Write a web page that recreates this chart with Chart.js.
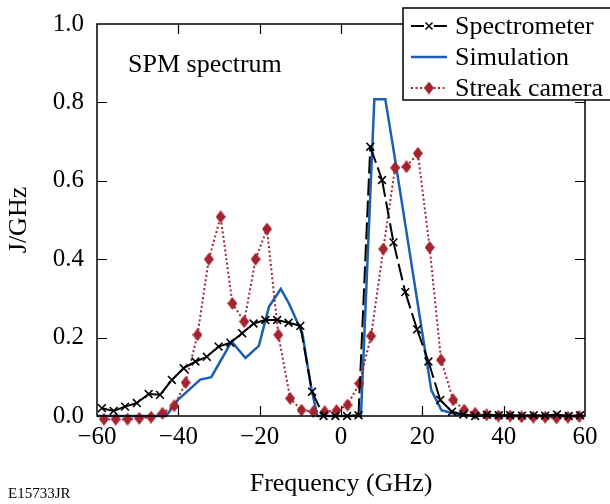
<!DOCTYPE html>
<html>
<head>
<meta charset="utf-8">
<script src="https://cdn.jsdelivr.net/npm/chart.js@4/dist/chart.umd.min.js"></script>
<style>
  html, body { margin: 0; padding: 0; background: #fff; }
  #c { display: block; }
</style>
</head>
<body>
<canvas id="c" width="610" height="504"></canvas>
<script>
// ---- Data ----
const specX = [-58.8, -55.9, -53.1, -50.2, -47.3, -44.5, -41.6, -38.7, -35.8, -33.0, -30.1, -27.2, -24.3, -21.5, -18.6, -15.7, -12.9, -10.0, -7.1, -4.3, -1.4, 1.5, 4.3, 7.2, 10.1, 12.9, 15.8, 18.7, 21.5, 24.4, 27.3, 30.1, 33.0, 35.9, 38.8, 41.6, 44.5, 47.4, 50.2, 53.1, 56.0, 58.8];
const specY = [0.020, 0.013, 0.024, 0.033, 0.056, 0.054, 0.092, 0.122, 0.139, 0.151, 0.177, 0.187, 0.211, 0.236, 0.245, 0.245, 0.238, 0.230, 0.062, 0.000, 0.000, 0.000, 0.002, 0.687, 0.602, 0.443, 0.316, 0.221, 0.139, 0.041, 0.011, 0.004, 0.000, 0.003, 0.002, 0.002, 0.001, 0.002, 0.001, 0.004, 0.000, 0.002];

const simX = [-60, -43.0, -40.1, -34.6, -31.9, -26.9, -23.5, -20.2, -17.7, -14.8, -12.8, -9.5, -7.4, -5.8, 4.9, 8.2, 10.9, 13.2, 22.2, 24.7, 28.8, 35, 60];
const simY = [0.000, 0.000, 0.041, 0.093, 0.099, 0.190, 0.148, 0.179, 0.279, 0.324, 0.287, 0.211, 0.075, 0.000, 0.000, 0.808, 0.808, 0.661, 0.066, 0.015, 0.003, 0.000, 0.000];

const streakX = [-58.3, -55.4, -52.5, -49.6, -46.7, -43.9, -41.0, -38.2, -35.3, -32.5, -29.6, -26.7, -23.8, -21.0, -18.2, -15.4, -12.5, -9.7, -6.8, -4.0, -1.1, 1.6, 4.5, 7.4, 10.4, 13.3, 16.1, 18.9, 21.8, 24.6, 27.6, 30.3, 33.0, 35.8, 38.7, 41.6, 44.4, 47.3, 50.2, 53.0, 55.8, 58.6];
const streakY = [-0.008, -0.008, -0.008, -0.006, -0.003, 0.007, 0.026, 0.085, 0.207, 0.400, 0.508, 0.287, 0.241, 0.400, 0.477, 0.207, 0.045, 0.015, 0.011, 0.011, 0.014, 0.028, 0.083, 0.204, 0.426, 0.633, 0.636, 0.670, 0.430, 0.143, 0.041, 0.015, 0.007, 0.003, 0.000, 0.000, -0.002, -0.003, -0.003, -0.005, -0.003, -0.001];

const seriesNames = ['Spectrometer', 'Simulation', 'Streak camera'];
const xTickValues = [-60, -40, -20, 0, 20, 40, 60];
const yTickValues = [0, 0.2, 0.4, 0.6, 0.8, 1.0];
const xTitle = 'Frequency (GHz)';
const yTitle = 'J/GHz';
const panelLabel = 'SPM spectrum';
const figureId = 'E15733JR';

// ---- Styles ----
const BLUE = '#1a5fb0';
const RED = '#a3232f';
const SERIF = '"Liberation Serif", "DejaVu Serif", serif';

function zip(xs, ys) { return xs.map((x, i) => ({ x: x, y: ys[i] })); }

// diamond marker
const diamond = document.createElement('canvas');
diamond.width = 10; diamond.height = 13;
(function () {
  const g = diamond.getContext('2d');
  g.fillStyle = RED;
  g.beginPath();
  g.moveTo(5, 0); g.lineTo(10, 6.5); g.lineTo(5, 13); g.lineTo(0, 6.5);
  g.closePath(); g.fill();
})();

const framePlugin = {
  id: 'frame',
  afterDatasetsDraw(chart) {
    const { ctx, chartArea: a, scales } = chart;
    ctx.save();
    ctx.strokeStyle = '#000';
    ctx.lineWidth = 1.5;
    ctx.strokeRect(a.left, a.top, a.right - a.left, a.bottom - a.top);
    ctx.lineWidth = 1.2;
    const tl = 10;
    ctx.beginPath();
    xTickValues.forEach(v => {
      if (v === xTickValues[0] || v === xTickValues[xTickValues.length - 1]) return;
      const px = Math.round(scales.x.getPixelForValue(v)) + 0.5;
      ctx.moveTo(px, a.bottom); ctx.lineTo(px, a.bottom - tl);
      ctx.moveTo(px, a.top); ctx.lineTo(px, a.top + tl);
    });
    yTickValues.forEach(v => {
      if (v === yTickValues[0] || v === yTickValues[yTickValues.length - 1]) return;
      const py = Math.round(scales.y.getPixelForValue(v)) + 0.5;
      ctx.moveTo(a.left, py); ctx.lineTo(a.left + tl, py);
      ctx.moveTo(a.right, py); ctx.lineTo(a.right - tl, py);
    });
    ctx.stroke();
    ctx.restore();
  },
  afterDraw(chart) {
    const ctx = chart.ctx;
    ctx.save();
    // panel label
    ctx.fillStyle = '#000';
    ctx.font = '26px ' + SERIF;
    ctx.textBaseline = 'alphabetic';
    ctx.textAlign = 'left';
    ctx.fillText(panelLabel, 128, 72);
    // figure id
    ctx.font = '15px ' + SERIF;
    ctx.fillText(figureId, 8, 498);

    // legend box
    const bx = 403, by = 8, bw = 212, bh = 92;
    ctx.fillStyle = '#fff';
    ctx.fillRect(bx, by, bw, bh);
    ctx.strokeStyle = '#000';
    ctx.lineWidth = 1.5;
    ctx.strokeRect(bx, by, bw, bh);

    const rows = [26, 57, 88];
    const x0 = 411, x1 = 447, xm = (x0 + x1) / 2, tx = 455;
    // Spectrometer
    ctx.strokeStyle = '#000'; ctx.lineWidth = 2; ctx.setLineDash([]);
    ctx.beginPath(); ctx.moveTo(x0, rows[0]); ctx.lineTo(xm - 5, rows[0]);
    ctx.moveTo(xm + 5, rows[0]); ctx.lineTo(x1, rows[0]); ctx.stroke();
    ctx.lineWidth = 1.5;
    ctx.beginPath();
    ctx.moveTo(xm - 3.5, rows[0] - 3.5); ctx.lineTo(xm + 3.5, rows[0] + 3.5);
    ctx.moveTo(xm + 3.5, rows[0] - 3.5); ctx.lineTo(xm - 3.5, rows[0] + 3.5);
    ctx.stroke();
    // Simulation
    ctx.strokeStyle = BLUE; ctx.lineWidth = 2.5;
    ctx.beginPath(); ctx.moveTo(x0, rows[1]); ctx.lineTo(x1, rows[1]); ctx.stroke();
    // Streak camera
    ctx.strokeStyle = RED; ctx.lineWidth = 2; ctx.setLineDash([2, 2.5]);
    ctx.beginPath(); ctx.moveTo(x0, rows[2]); ctx.lineTo(x1, rows[2]); ctx.stroke();
    ctx.setLineDash([]);
    ctx.drawImage(diamond, xm - 5, rows[2] - 6.5);

    ctx.fillStyle = '#000';
    ctx.font = '26px ' + SERIF;
    ctx.textBaseline = 'middle';
    seriesNames.forEach((n, i) => ctx.fillText(n, tx, rows[i] + 1));
    ctx.restore();
  }
};

new Chart(document.getElementById('c'), {
  type: 'line',
  data: {
    datasets: [
      {
        label: seriesNames[0],
        data: zip(specX, specY),
        borderColor: '#000',
        borderWidth: 2,
        borderDash: [17, 5],
        // restart the dash pattern on every segment (short segments look solid)
        segment: { borderDashOffset: c => (c.p0DataIndex % 2) * 0.01 },
        pointStyle: 'crossRot',
        pointRadius: 5.5,
        pointBorderWidth: 1.6,
        pointBorderColor: '#000',
        pointBackgroundColor: '#000',
        tension: 0,
        fill: false,
        clip: false,
        order: 0
      },
      {
        label: seriesNames[1],
        data: zip(simX, simY),
        borderColor: BLUE,
        borderWidth: 2.5,
        pointRadius: 0,
        tension: 0,
        fill: false,
        clip: false,
        order: 2
      },
      {
        label: seriesNames[2],
        data: zip(streakX, streakY),
        borderColor: RED,
        borderWidth: 2,
        borderDash: [2, 2.5],
        pointStyle: diamond,
        pointRadius: 6,
        tension: 0,
        fill: false,
        clip: false,
        order: 1
      }
    ]
  },
  options: {
    responsive: false,
    animation: false,
    devicePixelRatio: 1,
    layout: { padding: { left: 0, right: 25, top: 24, bottom: 0 } },
    plugins: { legend: { display: false }, tooltip: { enabled: false } },
    scales: {
      x: {
        type: 'linear',
        min: -60, max: 60,
        afterBuildTicks: s => { s.ticks = xTickValues.map(v => ({ value: v })); },
        ticks: {
          color: '#000',
          font: { family: SERIF, size: 25 },
          padding: 6,
          maxRotation: 0,
          callback: v => (v < 0 ? '\u2212' + Math.abs(v) : String(v))
        },
        grid: { display: false, drawTicks: false },
        border: { display: false },
        title: {
          display: true, text: xTitle, color: '#000',
          font: { family: SERIF, size: 26 },
          padding: { top: 0, bottom: 4 }
        },
        afterFit: s => { s.height = 88; s.paddingLeft = 0; s.paddingRight = 0; }
      },
      y: {
        type: 'linear',
        min: 0, max: 1,
        afterBuildTicks: s => { s.ticks = yTickValues.map(v => ({ value: v })); },
        ticks: {
          color: '#000',
          font: { family: SERIF, size: 25 },
          padding: 13,
          callback: v => Number(v).toFixed(1)
        },
        grid: { display: false, drawTicks: false },
        border: { display: false },
        title: {
          display: true, text: yTitle, color: '#000',
          font: { family: SERIF, size: 26 },
          padding: { top: 4, bottom: 0 }
        },
        afterFit: s => { s.width = 97; s.paddingTop = 0; s.paddingBottom = 0; }
      }
    }
  },
  plugins: [framePlugin]
});
</script>
</body>
</html>
